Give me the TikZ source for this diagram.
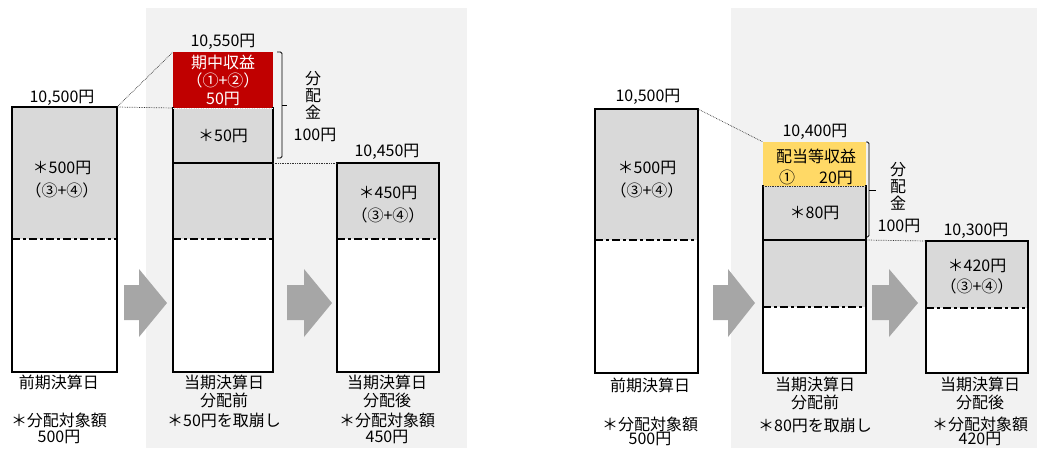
\documentclass[tikz,border=0pt]{standalone}
\usepackage{fontspec}
\setmainfont{Noto Sans CJK JP}
\usetikzlibrary{positioning,calc}
\definecolor{panelbg}{HTML}{F2F2F2}
\definecolor{segray}{HTML}{D9D9D9}
\definecolor{revred}{HTML}{C00000}
\definecolor{divyel}{HTML}{FFD966}
\definecolor{arrowgray}{HTML}{A6A6A6}
\tikzset{
  seg/.style={anchor=north west, inner sep=0pt, outer sep=0pt, align=center},
  frame/.style={line width=1.2pt, line cap=rect},
  sepline/.style={line width=1.8pt, dash pattern=on 8pt off 3pt on 3pt off 3pt},
  guide/.style={densely dotted, line width=0.7pt, black!80},
  brk/.style={line width=0.8pt, rounded corners=1.5pt},
  txt/.style={align=center, inner sep=0pt},
  val/.style={inner sep=0pt},
  flow/.style={fill=arrowgray},
}

\begin{document}
\begin{tikzpicture}[x=1pt,y=-1pt,font=\fontsize{16}{18}\selectfont]
    \useasboundingbox (0,0) rectangle (1037,448);
    \fill[panelbg] (146,8) rectangle (467,448);
    \fill[panelbg] (731,8) rectangle (1037,448);

    % left: previous settlement
    \node[seg,fill=segray,minimum width=105pt,minimum height=132pt] (a1hi) at (12,107) {};
    \node[seg,fill=white,minimum width=105pt,minimum height=133pt] (a1lo) at (12,239) {};
    \draw[frame] (a1hi.north west) rectangle (a1lo.south east);
    \draw[sepline] (a1lo.north west) -- (a1lo.north east);
    \node[txt] (a1txt) at (62,180) {＊500円\\[5pt]（③+④）};
    \node[val] (a1val) at (62,98) {10,500円};

    % left: before distribution
    \node[seg,fill=revred,text=white,minimum width=100pt,minimum height=56pt] (a2rev)
      at (173,52) {期中収益\\（①+②）\\50円};
    \node[seg,fill=segray,minimum width=100pt,minimum height=55pt] (a2cut) at (173,108) {＊50円};
    \node[seg,fill=segray,minimum width=100pt,minimum height=76pt] (a2hi) at (173,163) {};
    \node[seg,fill=white,minimum width=100pt,minimum height=133pt] (a2lo) at (173,239) {};
    \draw[frame] (a2cut.north west) |- (a2lo.south east) -- (a2cut.north east);
    \draw[frame] (a2hi.north west) -- (a2hi.north east);
    \draw[sepline] (a2lo.north west) -- (a2lo.north east);
    \draw[densely dotted, line width=0.7pt, white] (a2cut.north west) -- (a2cut.north east);
    \node[val] (a2val) at (223,42) {10,550円};
    \draw[brk] (277,52) -- (282,52) -- (282,158) -- (277,158);
    \draw[line width=0.8pt] (282,105) -- (287,105);
    \node[txt,font=\fontsize{16}{17}\selectfont] (a2dist) at (313,95) {分\\配\\金};
    \node[val] (a2amt) at (315,135) {100円};

    % left: after distribution
    \node[seg,fill=segray,minimum width=102pt,minimum height=76pt] (a3hi) at (337,163) {};
    \node[seg,fill=white,minimum width=102pt,minimum height=133pt] (a3lo) at (337,239) {};
    \draw[frame] (a3hi.north west) rectangle (a3lo.south east);
    \draw[sepline] (a3lo.north west) -- (a3lo.north east);
    \node[txt] (a3txt) at (388,205) {＊450円\\[5pt]（③+④）};
    \node[val] (a3val) at (387,152) {10,450円};

    \draw[guide] (a1hi.north east) -- (a2cut.north west);
    \draw[guide] (a1hi.north east) -- (a2rev.north west);
    \draw[guide] (a2hi.north east) -- (a3hi.north west);

    \fill[flow] (124,285) -- (139,285) -- (139,269) -- (167,303) -- (139,337) -- (139,320) -- (124,320) -- cycle;
    \fill[flow] (287,285) -- (304,285) -- (304,269) -- (332,303) -- (304,337) -- (304,320) -- (287,320) -- cycle;

    \node[txt] (a1day) at (59,382) {前期決算日};
    \node[txt,font=\fontsize{16}{16}\selectfont] (a1note) at (59,428) {＊分配対象額\\500円};
    \node[txt] (a2day) at (224,391) {当期決算日\\分配前};
    \node[txt] (a2note) at (224,420) {＊50円を取崩し};
    \node[txt] (a3day) at (387,391) {当期決算日\\分配後};
    \node[txt,font=\fontsize{16}{16}\selectfont] (a3note) at (387,428) {＊分配対象額\\450円};

    % right: previous settlement
    \node[seg,fill=segray,minimum width=103pt,minimum height=131pt] (b1hi) at (595,109) {};
    \node[seg,fill=white,minimum width=103pt,minimum height=133pt] (b1lo) at (595,240) {};
    \draw[frame] (b1hi.north west) rectangle (b1lo.south east);
    \draw[sepline] (b1lo.north west) -- (b1lo.north east);
    \node[txt] (b1txt) at (647,180) {＊500円\\[5pt]（③+④）};
    \node[val] (b1val) at (648,97) {10,500円};

    % right: before distribution
    \node[seg,fill=divyel,minimum width=103pt,minimum height=44pt] (b2rev)
      at (763,142) {};
    \node[txt] (b2revtxt) at (816,167) {配当等収益\\[3pt]①\hspace{24pt}20円};
    \node[seg,fill=segray,minimum width=103pt,minimum height=54pt] (b2cut) at (763,186) {＊80円};
    \node[seg,fill=segray,minimum width=103pt,minimum height=67pt] (b2hi) at (763,240) {};
    \node[seg,fill=white,minimum width=103pt,minimum height=66pt] (b2lo) at (763,307) {};
    \draw[frame] (b2cut.north west) |- (b2lo.south east) -- (b2cut.north east);
    \draw[frame] (b2hi.north west) -- (b2hi.north east);
    \draw[sepline] (b2lo.north west) -- (b2lo.north east);
    \draw[guide] (b2cut.north west) -- (b2cut.north east);
    \node[val] (b2val) at (815,132) {10,400円};
    \draw[brk] (866,142) -- (869,142) -- (869,237) -- (866,237);
    \draw[line width=0.8pt] (869,190) -- (876,190);
    \node[txt,font=\fontsize{16}{17}\selectfont] (b2dist) at (898,186) {分\\配\\金};
    \node[val] (b2amt) at (899,226) {100円};

    % right: after distribution
    \node[seg,fill=segray,minimum width=102pt,minimum height=67pt] (b3hi) at (926,241) {};
    \node[seg,fill=white,minimum width=102pt,minimum height=65pt] (b3lo) at (926,308) {};
    \draw[frame] (b3hi.north west) rectangle (b3lo.south east);
    \draw[sepline] (b3lo.north west) -- (b3lo.north east);
    \node[txt] (b3txt) at (977,277) {＊420円\\[3pt]（③+④）};
    \node[val] (b3val) at (976,231) {10,300円};

    \draw[guide] (b1hi.north east) -- (b2rev.north west);
    \draw[guide] (b2hi.north east) -- (b3hi.north west);

    \fill[flow] (713,285) -- (728,285) -- (728,269) -- (755,303) -- (728,337) -- (728,320) -- (713,320) -- cycle;
    \fill[flow] (872,285) -- (889,285) -- (889,269) -- (918,303) -- (889,337) -- (889,320) -- (872,320) -- cycle;

    \node[txt] (b1day) at (650,385) {前期決算日};
    \node[txt,font=\fontsize{16}{14}\selectfont] (b1note) at (650,431) {＊分配対象額\\500円};
    \node[txt] (b2day) at (815,393) {当期決算日\\分配前};
    \node[txt] (b2note) at (815,425) {＊80円を取崩し};
    \node[txt] (b3day) at (980,393) {当期決算日\\分配後};
    \node[txt,font=\fontsize{16}{14}\selectfont] (b3note) at (980,431) {＊分配対象額\\420円};
  \end{tikzpicture}
\end{document}
